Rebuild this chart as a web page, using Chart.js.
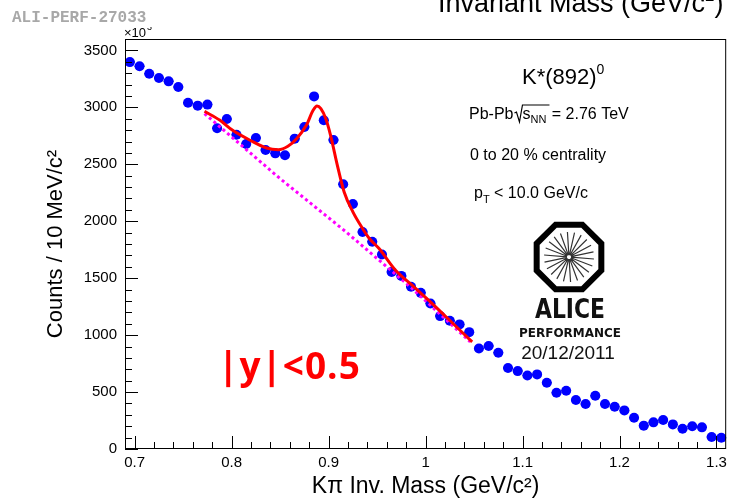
<!DOCTYPE html>
<html>
<head>
<meta charset="utf-8">
<script src="https://cdn.jsdelivr.net/npm/chart.js@4.4.1/dist/chart.umd.min.js"></script>
<style>
  html, body { margin: 0; padding: 0; background: #fff; }
  canvas { display: block; }
</style>
</head>
<body>
<canvas id="kstar" width="732" height="501"></canvas>
<script>
// K pi invariant mass, 10 MeV bins (bin centres)
const massBins = [0.695, 0.705, 0.715, 0.725, 0.735, 0.745, 0.755, 0.765, 0.775, 0.785,
  0.795, 0.805, 0.815, 0.825, 0.835, 0.845, 0.855, 0.865, 0.875, 0.885,
  0.895, 0.905, 0.915, 0.925, 0.935, 0.945, 0.955, 0.965, 0.975, 0.985,
  0.995, 1.005, 1.015, 1.025, 1.035, 1.045, 1.055, 1.065, 1.075, 1.085,
  1.095, 1.105, 1.115, 1.125, 1.135, 1.145, 1.155, 1.165, 1.175, 1.185,
  1.195, 1.205, 1.215, 1.225, 1.235, 1.245, 1.255, 1.265, 1.275, 1.285,
  1.295, 1.305];
const counts = [3397, 3360, 3295, 3257, 3228, 3178, 3041, 3015, 3024, 2816,
  2897, 2760, 2678, 2731, 2626, 2596, 2579, 2725, 2827, 3096,
  2886, 2713, 2325, 2152, 1906, 1819, 1708, 1555, 1520, 1424,
  1371, 1278, 1167, 1126, 1094, 1026, 883, 904, 845, 711,
  684, 646, 655, 582, 494, 512, 430, 395, 468, 395,
  371, 339, 275, 205, 234, 254, 216, 178, 199, 190,
  105, 99];
const halfBin = 0.005;

// fit (signal + background)
const fitMass = [0.772, 0.788, 0.801, 0.819, 0.836, 0.848, 0.858, 0.867, 0.877, 0.884,
  0.888, 0.892, 0.897, 0.902, 0.909, 0.916, 0.925, 0.935, 0.942, 0.952,
  0.969, 0.986, 1.003, 1.021, 1.048];
const fitCounts = [2965, 2886, 2798, 2711, 2643, 2628, 2658, 2725, 2842, 2974,
  3012, 2988, 2901, 2754, 2491, 2257, 2082, 1936, 1848, 1760,
  1570, 1439, 1307, 1161, 941];

// residual background (magenta dots)
const bgMass = [0.772, 0.8495, 0.918, 0.986, 1.046];
const bgCounts = [2945, 2377, 1906, 1410, 941];

const xTickValues = [0.7, 0.8, 0.9, 1.0, 1.1, 1.2, 1.3];
const xTickLabels = ['0.7', '0.8', '0.9', '1', '1.1', '1.2', '1.3'];
const yTickValues = [0, 500, 1000, 1500, 2000, 2500, 3000, 3500];
const yTickLabels = ['0', '500', '1000', '1500', '2000', '2500', '3000', '3500'];

const SANS = '"Liberation Sans", Arial, sans-serif';
Chart.defaults.font.family = SANS;
Chart.defaults.color = '#000';

function pairs(xs, ys) {
  return xs.map((v, i) => ({x: v, y: ys[i]}));
}

// draw a row of text pieces (sub/superscripts) starting at x
function drawRuns(ctx, x, y, runs) {
  runs.forEach(r => {
    ctx.font = (r.weight || '') + ' ' + r.size + 'px ' + SANS;
    ctx.fillText(r.t, x, y + (r.dy || 0));
    x += ctx.measureText(r.t).width;
  });
  return x;
}

const errorBars = {
  id: 'errorBars',
  beforeDatasetsDraw(chart) {
    const {ctx, scales: {x, y}} = chart;
    ctx.save();
    ctx.strokeStyle = '#000080';
    ctx.lineWidth = 1.5;
    ctx.beginPath();
    massBins.forEach((m, i) => {
      const py = y.getPixelForValue(counts[i]);
      ctx.moveTo(x.getPixelForValue(m - halfBin), py);
      ctx.lineTo(x.getPixelForValue(m + halfBin), py);
    });
    ctx.stroke();
    ctx.restore();
  }
};

const rootFrame = {
  id: 'rootFrame',
  afterDraw(chart) {
    const {ctx, chartArea: a, scales: {x, y}} = chart;
    ctx.save();
    ctx.strokeStyle = '#000';
    ctx.lineWidth = 1;
    ctx.strokeRect(a.left + 0.5, a.top + 0.5, a.right - a.left - 1, a.bottom - a.top - 1);

    // inward ticks, ROOT style
    ctx.beginPath();
    for (let k = 35; k <= 65; k++) {
      const px = Math.round(x.getPixelForValue(k * 0.02)) + 0.5;
      const len = k % 5 === 0 ? 13 : 7;
      ctx.moveTo(px, a.bottom);
      ctx.lineTo(px, a.bottom - len);
    }
    for (let k = 0; k <= 35; k++) {
      const py = Math.round(y.getPixelForValue(k * 100)) + 0.5;
      const len = k % 5 === 0 ? 13 : 7;
      ctx.moveTo(a.left, py);
      ctx.lineTo(a.left + len, py);
    }
    ctx.stroke();

    // exponent marker above the y axis
    ctx.fillStyle = '#000';
    ctx.font = '13px ' + SANS;
    ctx.fillText('\u00d710', 124, 37);
    ctx.save();
    ctx.beginPath();
    ctx.rect(140, 27, 30, 20);
    ctx.clip();
    ctx.font = '9px ' + SANS;
    ctx.fillText('3', 147, 30);
    ctx.restore();

    // preliminary id
    ctx.fillStyle = '#a8a8a8';
    ctx.font = 'bold 16px "Liberation Mono", monospace';
    ctx.fillText('ALI-PERF-27033', 12, 22);

    // cropped title at the top
    ctx.fillStyle = '#000';
    drawRuns(ctx, 438, 12, [
      {t: 'Invariant Mass (GeV/c', size: 27},
      {t: '2', size: 17, dy: -11},
      {t: ')', size: 27}
    ]);

    // labels in the plot
    drawRuns(ctx, 522, 84, [
      {t: 'K*(892)', size: 22},
      {t: '0', size: 14, dy: -10}
    ]);
    let px = drawRuns(ctx, 469, 119, [{t: 'Pb-Pb', size: 16}]);
    ctx.lineWidth = 1.2;
    ctx.beginPath();
    ctx.moveTo(px + 1, 119 - 6);
    ctx.lineTo(px + 3, 119 - 7);
    ctx.lineTo(px + 6, 119 + 3);
    ctx.lineTo(px + 9, 119 - 14);
    ctx.lineTo(px + 36, 119 - 14);
    ctx.stroke();
    px = drawRuns(ctx, px + 9, 119, [
      {t: 's', size: 16},
      {t: 'NN', size: 11, dy: 4}
    ]);
    drawRuns(ctx, px + 1, 119, [{t: ' = 2.76 TeV', size: 16}]);
    drawRuns(ctx, 470, 160, [{t: '0 to 20 % centrality', size: 16}]);
    drawRuns(ctx, 474, 198, [
      {t: 'p', size: 16},
      {t: 'T', size: 11, dy: 5},
      {t: ' < 10.0 GeV/c', size: 16}
    ]);

    // ALICE logo
    const cx = 569, cy = 257, r = 35;
    ctx.strokeStyle = '#333';
    ctx.lineWidth = 1.2;
    ctx.beginPath();
    for (let k = 0; k < 22; k++) {
      const t = k * Math.PI / 11 + 0.08;
      ctx.moveTo(cx + 2 * Math.cos(t), cy + 2 * Math.sin(t));
      ctx.lineTo(cx + 25 * Math.cos(t), cy + 25 * Math.sin(t));
    }
    ctx.stroke();
    ctx.strokeStyle = '#000';
    ctx.lineWidth = 6;
    ctx.lineJoin = 'miter';
    ctx.beginPath();
    for (let k = 0; k < 8; k++) {
      const t = Math.PI / 8 + k * Math.PI / 4;
      const vx = cx + r * Math.cos(t), vy = cy + r * Math.sin(t);
      if (k === 0) ctx.moveTo(vx, vy); else ctx.lineTo(vx, vy);
    }
    ctx.closePath();
    ctx.stroke();
    ctx.textAlign = 'center';
    ctx.fillStyle = '#111';
    ctx.font = 'bold 27px "DejaVu Sans", sans-serif';
    ctx.fillText('ALICE', cx + 1, 318, 70);
    ctx.font = 'bold 13px "DejaVu Sans", sans-serif';
    ctx.fillText('PERFORMANCE', cx + 1, 337, 102);
    ctx.font = '19px ' + SANS;
    ctx.fillText('20/12/2011', cx - 1, 359);

    // rapidity cut
    ctx.textAlign = 'left';
    ctx.fillStyle = '#ff0000';
    ctx.font = 'bold 37px "Open Sans", sans-serif';
    ctx.letterSpacing = '1px';
    ctx.fillText('|y|<0.5', 218, 379);
    ctx.restore();
  }
};

const ctx = document.getElementById('kstar');
const data = {
  datasets: [{
    type: 'line',
    label: 'fit',
    data: pairs(fitMass, fitCounts),
    borderColor: '#ff0000',
    borderWidth: 3,
    pointRadius: 0,
    cubicInterpolationMode: 'monotone',
    fill: false
  }, {
    type: 'line',
    label: 'background',
    data: pairs(bgMass, bgCounts),
    borderColor: '#ff00ff',
    borderWidth: 3,
    borderDash: [3, 3],
    pointRadius: 0,
    tension: 0,
    fill: false
  }, {
    type: 'scatter',
    label: 'data',
    data: pairs(massBins, counts),
    pointRadius: 5,
    pointBackgroundColor: '#0000ff',
    pointBorderColor: '#0000ff',
    pointBorderWidth: 0
  }]
};

const config = {
  type: 'scatter',
  data: data,
  options: {
    responsive: false,
    animation: false,
    devicePixelRatio: 1,
    layout: {padding: {top: 39, right: 3, left: 0, bottom: 0}},
    plugins: {legend: {display: false}, tooltip: {enabled: false}},
    scales: {
      x: {
        type: 'linear',
        min: 0.69,
        max: 1.31,
        afterFit: s => { s.height = 52; },
        afterBuildTicks: s => { s.ticks = xTickValues.map(v => ({value: v})); },
        grid: {display: false, drawTicks: false},
        border: {display: false},
        ticks: {
          font: {size: 15},
          padding: 5,
          maxRotation: 0,
          autoSkip: false,
          callback: (v, i) => xTickLabels[i]
        },
        title: {
          display: true,
          text: 'K\u03c0 Inv. Mass (GeV/c\u00b2)',
          font: {size: 23},
          padding: {top: 0, bottom: 1}
        }
      },
      y: {
        min: 0,
        max: 3600,
        afterFit: s => { s.width = 125; },
        afterBuildTicks: s => { s.ticks = yTickValues.map(v => ({value: v})); },
        grid: {display: false, drawTicks: false},
        border: {display: false},
        ticks: {
          font: {size: 15},
          padding: 8,
          autoSkip: false,
          callback: (v, i) => yTickLabels[i]
        },
        title: {
          display: true,
          text: 'Counts / 10 MeV/c\u00b2',
          font: {size: 22},
          padding: {top: 43, bottom: 0}
        }
      }
    }
  },
  plugins: [errorBars, rootFrame]
};

const kstarChart = new Chart(ctx, config);
</script>
</body>
</html>
